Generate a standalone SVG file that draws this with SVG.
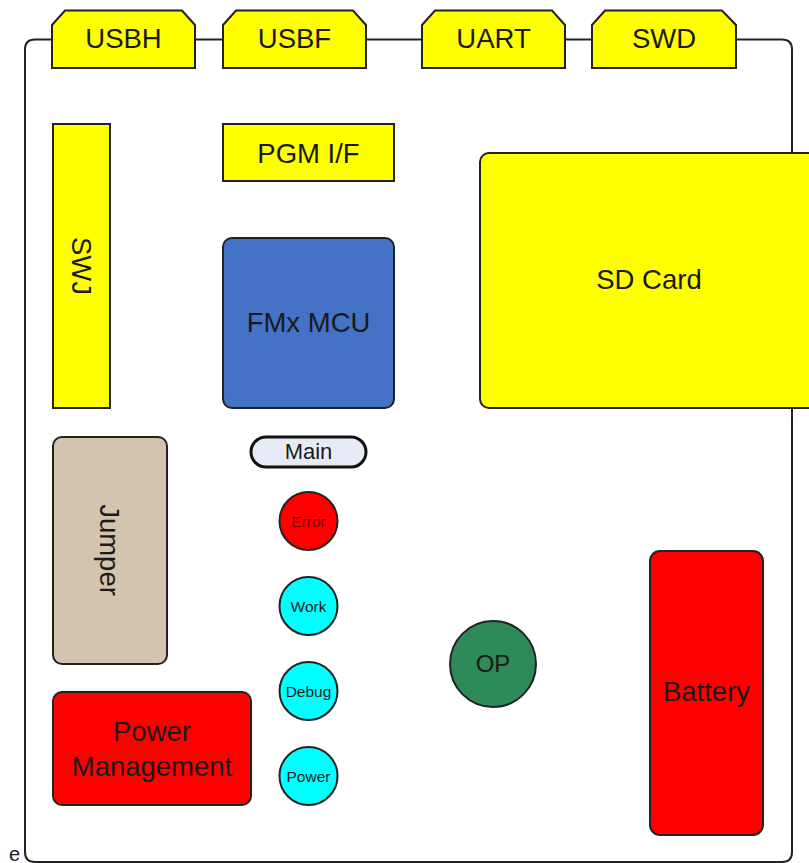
<svg xmlns="http://www.w3.org/2000/svg" width="809" height="863" viewBox="0 0 809 863">
<style>
text{font-family:"Liberation Sans",Arial,sans-serif;fill:#1a1a1a;text-anchor:middle}
.s{stroke:#222;stroke-width:2}
.y{fill:#ffff00}
.r{fill:#ff0000}
.c{fill:#00ffff}
.t24{font-size:27.5px}
.led{font-size:15.5px}
</style>
<rect width="809" height="863" fill="#fff"/>
<g id="connectors" fill="none" class="s">
<path d="M52,39.5 H35 Q25,39.5 25,49.5 V852 Q25,862 35,862 H782 Q792,862 792,852 V49.5 Q792,39.5 782,39.5 H736"/>
<path d="M195,39.5 H223 M366,39.5 H422 M565,39.5 H592"/>
</g>
<g id="usbh"><path class="s y" d="M52,68 V25 L65,10.5 H182 L195,25 V68 Z"/><text class="t24" x="123.5" y="47.5">USBH</text></g>
<g id="usbf"><path class="s y" d="M223,68 V25 L236,10.5 H353 L366,25 V68 Z"/><text class="t24" x="294.5" y="47.5">USBF</text></g>
<g id="uart"><path class="s y" d="M422,68 V25 L435,10.5 H552 L565,25 V68 Z"/><text class="t24" x="493.5" y="47.5">UART</text></g>
<g id="swd"><path class="s y" d="M592,68 V25 L605,10.5 H722 L736,25 V68 Z"/><text class="t24" x="664" y="47.5">SWD</text></g>
<g id="sdcard"><rect class="s y" x="480" y="153" width="345" height="255" rx="9"/><text class="t24" x="649" y="289">SD Card</text></g>
<g id="swj"><rect class="s y" x="53" y="124" width="57" height="284"/><text class="t24" transform="translate(82,266) rotate(90)" y="10">SWJ</text></g>
<g id="pgm"><rect class="s y" x="223" y="124" width="171" height="57"/><text class="t24" x="308.5" y="163">PGM I/F</text></g>
<g id="mcu"><rect class="s" fill="#4472c4" x="223" y="238" width="171" height="170" rx="9"/><text class="t24" x="308.5" y="332">FMx MCU</text></g>
<g id="main"><rect stroke="#111" stroke-width="3" fill="#e6ebf5" x="251" y="437" width="115" height="30" rx="15"/><text x="308.5" y="459" font-size="22">Main</text></g>
<g id="error"><circle class="s r" cx="308.5" cy="521" r="29"/><text class="led" x="308.5" y="526.5" style="fill:#7a0000">Error</text></g>
<g id="work"><circle class="s c" cx="308.5" cy="606" r="29"/><text class="led" x="308.5" y="611.5">Work</text></g>
<g id="debug"><circle class="s c" cx="308.5" cy="691" r="29"/><text class="led" x="308.5" y="696.5">Debug</text></g>
<g id="power"><circle class="s c" cx="308.5" cy="776" r="29"/><text class="led" x="308.5" y="781.5">Power</text></g>
<g id="jumper"><rect class="s" fill="#d2c4ae" x="53" y="437" width="114" height="227" rx="9"/><text class="t24" transform="translate(110,550) rotate(90)" y="10">Jumper</text></g>
<g id="pm"><rect class="s r" x="53" y="692" width="198" height="113" rx="9"/><text class="t24" x="152" y="741">Power</text><text class="t24" x="152" y="776">Management</text></g>
<g id="op"><circle class="s" fill="#2e8b57" cx="493" cy="664" r="43"/><text x="493" y="672" font-size="24">OP</text></g>
<g id="battery"><rect class="s r" x="650" y="551" width="113" height="284" rx="10"/><text class="t24" x="706.5" y="701">Battery</text></g>
<text x="9" y="861" font-size="20" style="text-anchor:start">e</text>
</svg>
